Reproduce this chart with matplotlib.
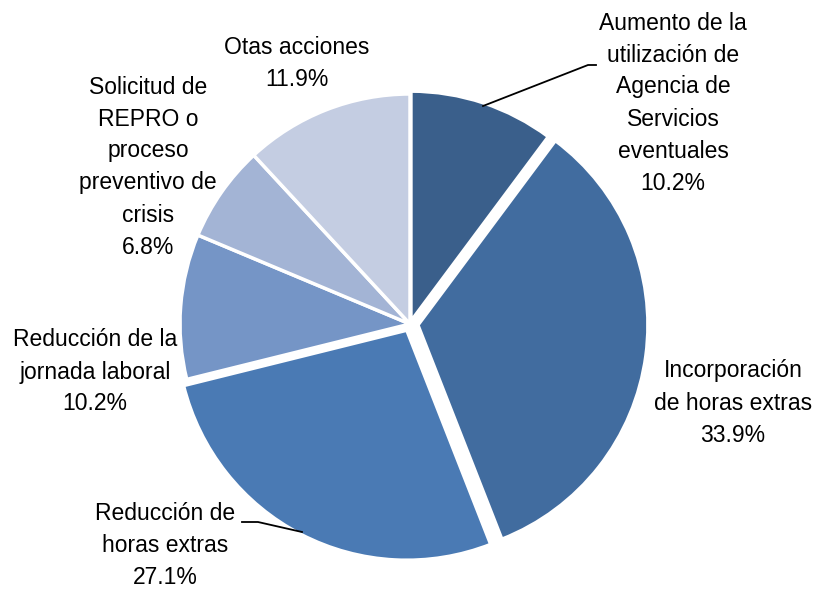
import numpy as np
import matplotlib.pyplot as plt

plt.rcParams['font.family'] = ['Liberation Sans', 'DejaVu Sans']

labels = ['Aumento de la\nutilización de\nAgencia de\nServicios\neventuales',
          'Incorporación\nde horas extras',
          'Reducción de\nhoras extras',
          'Reducción de la\njornada laboral',
          'Solicitud de\nREPRO o\nproceso\npreventivo de\ncrisis',
          'Otas acciones']
values = [10.2, 33.9, 27.1, 10.2, 6.8, 11.9]
colors = ['#3A5F8B', '#416C9F', '#4A7AB4', '#7595C6', '#A3B4D5', '#C4CDE2']
# explode offsets in pixels (pie explode is not scaled by radius)
explode = [3, 8, 7, 0, 0, 0]
# label centre positions (pixels, from top-left)
label_pos = [(673, 103), (733, 403), (165, 546), (95, 372), (148, 167), (297, 64)]

W, H = 817, 592
fig = plt.figure(figsize=(W / 100, H / 100), dpi=100)
ax = fig.add_axes([0, 0, 1, 1])

cx, cy, r = 410, H - 324, 230
ax.pie(values, colors=colors, startangle=90, counterclock=False,
       explode=explode, center=(cx, cy), radius=r, frame=True,
       wedgeprops=dict(edgecolor='white', linewidth=2.5))
ax.set_xlim(0, W)
ax.set_ylim(0, H)
ax.set_aspect('equal')
ax.axis('off')

for lab, v, (x, y) in zip(labels, values, label_pos):
    ax.text(x, H - y, '{}\n{:.1f}%'.format(lab, v), ha='center', va='center',
            fontsize=16.5, linespacing=1.5, color='black')

# leader lines
ax.plot([483, 588, 596], [H - 106, H - 65, H - 65], color='black', lw=1.3)
ax.plot([242, 258, 302], [H - 522, H - 522, H - 532], color='black', lw=1.3)

fig.savefig('out.png', dpi=100)
